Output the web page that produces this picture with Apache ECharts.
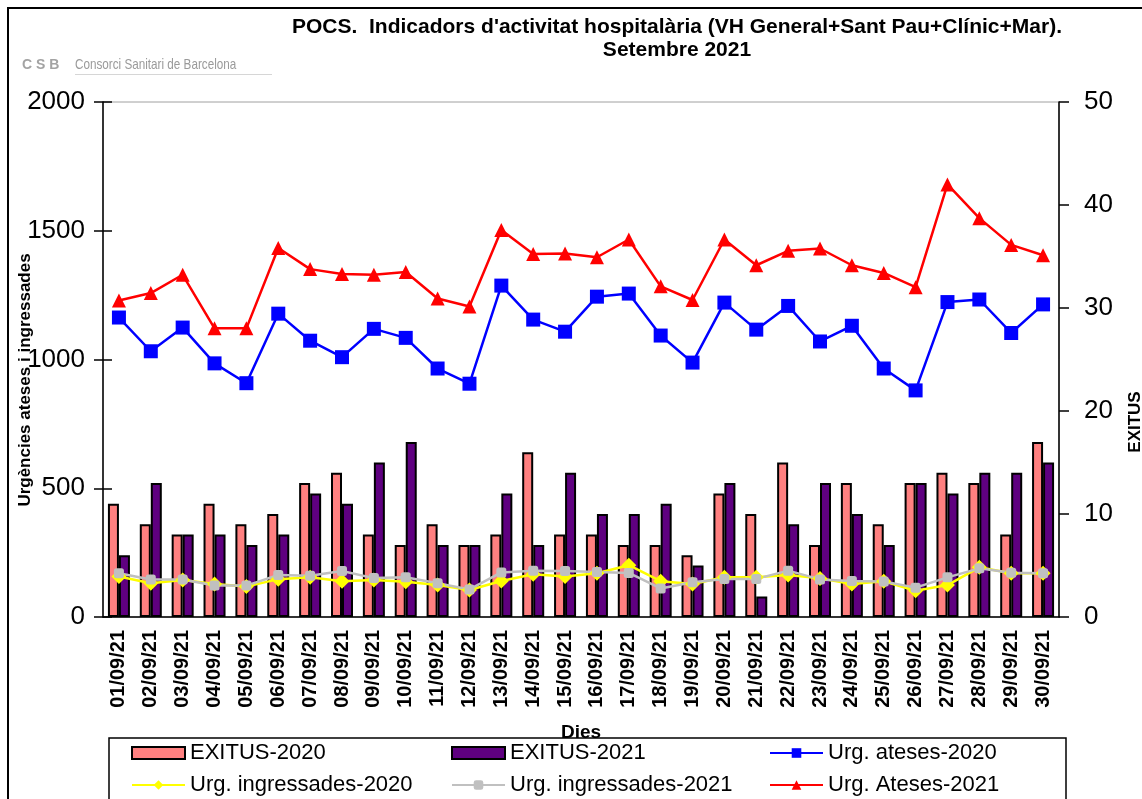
<!DOCTYPE html>
<html>
<head>
<meta charset="utf-8">
<script src="https://cdn.jsdelivr.net/npm/echarts@6/dist/echarts.min.js"></script>
<style>
  html, body { margin: 0; padding: 0; background: #fff; }
  #chart { width: 1142px; height: 799px; }
</style>
</head>
<body>
<div id="chart"></div>
<script>
(function () {
  const days = [
    "01/09/21", "02/09/21", "03/09/21", "04/09/21", "05/09/21", "06/09/21",
    "07/09/21", "08/09/21", "09/09/21", "10/09/21", "11/09/21", "12/09/21",
    "13/09/21", "14/09/21", "15/09/21", "16/09/21", "17/09/21", "18/09/21",
    "19/09/21", "20/09/21", "21/09/21", "22/09/21", "23/09/21", "24/09/21",
    "25/09/21", "26/09/21", "27/09/21", "28/09/21", "29/09/21", "30/09/21",
  ];

  // right axis (EXITUS)
  const exitus2020 = [11, 9, 8, 11, 9, 10, 13, 14, 8, 7, 9, 7, 8, 16, 8, 8, 7, 7, 6, 12, 10, 15, 7, 13, 9, 13, 14, 13, 8, 17];
  const exitus2021 = [6, 13, 8, 8, 7, 8, 12, 11, 15, 17, 7, 7, 12, 7, 14, 10, 10, 11, 5, 13, 2, 9, 13, 10, 7, 13, 12, 14, 14, 15];

  // left axis (urgencies)
  const ateses2020 = [1163, 1032, 1124, 985, 908, 1178, 1073, 1009, 1119, 1084, 965, 906, 1287, 1155, 1108, 1244, 1256, 1093, 988, 1221, 1116, 1208, 1070, 1131, 965, 880, 1223, 1233, 1103, 1214];
  const ateses2021 = [1229, 1258, 1329, 1121, 1121, 1433, 1351, 1332, 1329, 1340, 1237, 1206, 1503, 1410, 1412, 1397, 1466, 1284, 1231, 1466, 1366, 1422, 1431, 1366, 1336, 1281, 1680, 1549, 1445, 1405];
  const ingressades2020 = [157, 131, 144, 128, 118, 147, 154, 139, 144, 137, 124, 105, 140, 166, 157, 170, 201, 139, 128, 154, 154, 163, 150, 128, 139, 102, 124, 193, 170, 170];
  const ingressades2021 = [170, 146, 146, 122, 122, 163, 160, 179, 151, 154, 131, 107, 173, 180, 179, 175, 171, 111, 135, 148, 148, 180, 146, 140, 138, 114, 154, 189, 172, 170];

  const FONT = "Liberation Sans, Arial, sans-serif";

  const legendBase = {
    orient: "vertical",
    top: 742,
    itemWidth: 53,
    itemHeight: 12,
    itemGap: 10,
    padding: 0,
    selectedMode: false,
    textStyle: { color: "#000", fontSize: 22, fontFamily: FONT },
  };

  const option = {
    animation: false,
    backgroundColor: "#fff",
    textStyle: { fontFamily: FONT },
    title: {
      text: "POCS.  Indicadors d'activitat hospitalària (VH General+Sant Pau+Clínic+Mar).\nSetembre 2021",
      left: 677,
      top: 16,
      padding: 0,
      textAlign: "center",
      textStyle: { fontSize: 21, fontWeight: "bold", color: "#000", lineHeight: 23, fontFamily: FONT },
    },
    legend: [
      Object.assign({}, legendBase, { left: 131, data: [{ name: "EXITUS-2020", icon: "rect" }, "Urg. ingressades-2020"] }),
      Object.assign({}, legendBase, { left: 451, data: [{ name: "EXITUS-2021", icon: "rect" }, "Urg. ingressades-2021"] }),
      Object.assign({}, legendBase, { left: 769, data: ["Urg. ateses-2020", "Urg. Ateses-2021"] }),
    ],
    grid: {
      left: 103,
      right: 83,
      top: 102,
      bottom: 182,
      show: true,
      borderColor: "#a0a0a0",
      borderWidth: 1,
      backgroundColor: "#fff",
    },
    xAxis: {
      type: "category",
      data: days,
      name: "Dies",
      nameLocation: "middle",
      nameGap: 106,
      nameTextStyle: { fontSize: 19, fontWeight: "bold", color: "#000" },
      axisLine: { lineStyle: { color: "#000", width: 1.5 } },
      axisTick: { length: 8, lineStyle: { color: "#000", width: 1.5 } },
      axisLabel: {
        rotate: 90,
        margin: 13,
        interval: 0,
        fontSize: 20,
        fontWeight: "bold",
        color: "#000",
      },
    },
    yAxis: [
      {
        type: "value",
        position: "left",
        min: 0,
        max: 2000,
        interval: 500,
        axisLine: { show: true, lineStyle: { color: "#000", width: 1.5 } },
        axisTick: { show: true, length: 9, lineStyle: { color: "#000", width: 1.5 } },
        axisLabel: { fontSize: 26, color: "#000", margin: 18, formatter: (v) => String(v) },
        splitLine: { show: false },
      },
      {
        type: "value",
        position: "right",
        min: 0,
        max: 50,
        interval: 10,
        axisLine: { show: true, lineStyle: { color: "#000", width: 1.5 } },
        axisTick: { show: true, length: 10, lineStyle: { color: "#000", width: 1.5 } },
        axisLabel: { fontSize: 26, color: "#000", margin: 25 },
        splitLine: { show: false },
      },
      {
        // inner half of the crossing ticks on the left axis
        type: "value",
        position: "left",
        min: 0,
        max: 2000,
        interval: 500,
        axisLine: { show: false },
        axisTick: { show: true, inside: true, length: 9, lineStyle: { color: "#000", width: 1.5 } },
        axisLabel: { show: false },
        splitLine: { show: false },
      },
    ],
    series: [
      {
        name: "EXITUS-2020",
        type: "bar",
        yAxisIndex: 1,
        barWidth: 11,
        barGap: "0%",
        itemStyle: { color: "#ff8080", borderColor: "#000", borderWidth: 2 },
        data: exitus2020,
      },
      {
        name: "EXITUS-2021",
        type: "bar",
        yAxisIndex: 1,
        barWidth: 11,
        barGap: "0%",
        itemStyle: { color: "#5f0080", borderColor: "#000", borderWidth: 2 },
        data: exitus2021,
      },
      {
        name: "Urg. ateses-2020",
        type: "line",
        symbol: "rect",
        symbolSize: 14,
        color: "#0000ff",
        lineStyle: { color: "#0000ff", width: 2.5 },
        itemStyle: { color: "#0000ff" },
        data: ateses2020,
      },
      {
        name: "Urg. ingressades-2020",
        type: "line",
        symbol: "diamond",
        symbolSize: 15,
        color: "#ffff00",
        lineStyle: { color: "#ffff00", width: 2.5 },
        itemStyle: { color: "#ffff00" },
        data: ingressades2020,
      },
      {
        name: "Urg. ingressades-2021",
        type: "line",
        symbol: "roundRect",
        symbolSize: 10,
        color: "#c0c0c0",
        lineStyle: { color: "#c0c0c0", width: 2.5 },
        itemStyle: { color: "#c0c0c0" },
        data: ingressades2021,
      },
      {
        name: "Urg. Ateses-2021",
        type: "line",
        symbol: "triangle",
        symbolSize: 14,
        color: "#ff0000",
        lineStyle: { color: "#ff0000", width: 2.5 },
        itemStyle: { color: "#ff0000" },
        data: ateses2021,
      },
    ],
    graphic: [
      {
        type: "rect",
        z: -1,
        shape: { x: 8, y: 8, width: 1300, height: 900 },
        style: { fill: null, stroke: "#000", lineWidth: 2 },
      },
      {
        type: "rect",
        z: 3,
        shape: { x: 109, y: 738, width: 957, height: 100 },
        style: { fill: "#fff", stroke: "#000", lineWidth: 1.5 },
      },
      {
        type: "text",
        x: 22,
        y: 65,
        style: {
          text: "C S B", fill: "#a3a3a3", font: "bold 14px " + FONT,
          align: "left", verticalAlign: "middle", textAlign: "left", textVerticalAlign: "middle",
        },
      },
      {
        type: "text",
        x: 75,
        y: 65,
        scaleX: 0.78,
        style: {
          text: "Consorci Sanitari de Barcelona", fill: "#9a9a9a", font: "15px " + FONT,
          align: "left", verticalAlign: "middle", textAlign: "left", textVerticalAlign: "middle",
        },
      },
      {
        type: "line",
        shape: { x1: 75, y1: 74.5, x2: 272, y2: 74.5 },
        style: { stroke: "#d6d6d6", lineWidth: 1 },
      },
      {
        type: "text",
        x: 25,
        y: 380,
        rotation: Math.PI / 2,
        style: {
          text: "Urgències ateses i ingressades", fill: "#000", font: "bold 17px " + FONT,
          align: "center", verticalAlign: "middle", textAlign: "center", textVerticalAlign: "middle",
        },
      },
      {
        type: "text",
        x: 1135,
        y: 422,
        rotation: Math.PI / 2,
        style: {
          text: "EXITUS", fill: "#000", font: "bold 17px " + FONT,
          align: "center", verticalAlign: "middle", textAlign: "center", textVerticalAlign: "middle",
        },
      },
    ],
  };

  const chart = echarts.init(document.getElementById("chart"), null, { renderer: "canvas" });
  chart.setOption(option);
  window.addEventListener("resize", () => chart.resize());
})();
</script>
</body>
</html>
